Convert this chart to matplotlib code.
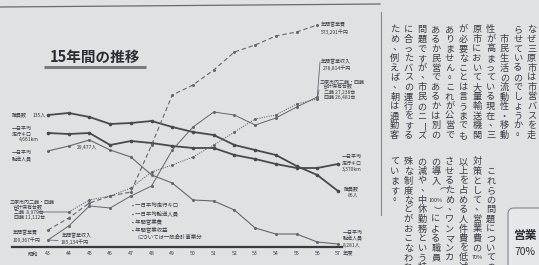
import matplotlib
matplotlib.use('Agg')
import matplotlib.pyplot as plt
from matplotlib.patches import FancyBboxPatch

plt.rcParams['font.family'] = ['Noto Sans CJK JP', 'DejaVu Sans']

# ---------------- data (heights above the baseline, chart has no printed scale) -------------
years = list(range(43, 58))
year_labels = [str(y) for y in years]
staff = [132, 134, 130, 123, 124, 126, 120, 115, 112, 102, 97, 92, 81, 72, 56]
bus_km = [114, 113, 114, 102, 106, 104, 101, 99, 99, 92, 88, 83, 79, 79, 83]
passengers = [96, 101, 107, 97, 90, 72, 64, 47, 46, 37, 19, 13, 13, 5, 3]
money_years = list(range(43, 57))
expenses = [17, 29, 44, 51, 55, 102, 152, 162, 177, 195, 202, 211, 215, 222]
revenue = [7, 21, 41, 39, 51, 61, 97, 120, 135, 132, 122, 129, 140, 150]
vehicle_years = list(range(44, 57))
vehicles = [35, 47, 51, 59, 75, 82, 90, 102, 115, 128, 132, 143, 148]

BG = '#dfe1e3'
INK = '#3a3a44'
LINE = '#48484f'
LIGHT = '#66666e'

W, H = 539, 265
fig = plt.figure(figsize=(W / 100, H / 100), dpi=100)
fig.patch.set_facecolor(BG)

# overlay in pixel coordinates for text / decorations
ov = fig.add_axes([0, 0, 1, 1])
ov.set_xlim(0, W)
ov.set_ylim(H, 0)
ov.axis('off')
ov.patch.set_alpha(0)

# chart axes: year 43 -> x=48px, step 20.714px ; baseline at y=247px
step = 20.714
x0 = 48 - 2 * step
x1 = 48 + 16 * step
ax = fig.add_axes([x0 / W, (H - 247) / H, (x1 - x0) / W, 240 / H])
ax.set_xlim(41, 59)
ax.set_ylim(0, 240)
ax.patch.set_alpha(0)
for s in ['top', 'right', 'left']:
    ax.spines[s].set_visible(False)
ax.spines['bottom'].set_bounds(41.26, 57.2)
ax.spines['bottom'].set_linewidth(1.6)
ax.spines['bottom'].set_color('#38383e')
ax.set_yticks([])
ax.set_xticks(years)
ax.set_xticklabels(year_labels, fontsize=3.8, color=INK)
ax.tick_params(axis='x', length=0, pad=3.2)

# lines
ax.plot(years, staff, color=LINE, lw=1.3, marker='o', ms=1.6, zorder=3)
ax.plot(years, bus_km, color=LINE, lw=1.3, marker='o', ms=1.6, zorder=3)
ax.plot(years, passengers, color=LIGHT, lw=0.8, marker='o', ms=1.2, zorder=3)
ax.plot(money_years, expenses, color=LIGHT, lw=0.8, ls=(0, (4, 2.5)), marker='o', ms=1.2, zorder=3)
ax.plot(money_years, revenue, color=LIGHT, lw=0.7, marker='o', ms=1.2, zorder=3)
ax.plot(vehicle_years, vehicles, color=LIGHT, lw=0.7, ls=(0, (1.2, 1.2)), marker='o', ms=1.2, zorder=3)

# leaders
lk = dict(arrowstyle='-', lw=0.6, color=LIGHT, shrinkA=0, shrinkB=0)
ax.annotate('', xy=(44, vehicles[0]), xytext=(38, 212), textcoords=ov.transData, arrowprops=lk)
ax.annotate('', xy=(43, revenue[0]), xytext=(58, 240.5), textcoords=ov.transData, arrowprops=lk)
ax.annotate('', xy=(56, revenue[-1]), xytext=(320, 62), textcoords=ov.transData, arrowprops=lk)
ax.annotate('', xy=(56, vehicles[-1]), xytext=(319, 90), textcoords=ov.transData, arrowprops=lk)

# axis end texts
ov.text(33, 254, '昭和', fontsize=3.8, color=INK, ha='center', va='center')
ov.text(348, 254, '年度', fontsize=3.8, color=INK, ha='center', va='center')

# title
ov.text(95, 57, '15年間の推移', fontsize=10.5, fontweight='bold', color='#2c2c34', ha='center', va='center')
ov.plot([44, 146], [67, 67], color='#7a7a80', lw=2.2, solid_capstyle='butt')

# labels
fs = 3.6
labels = [
    ('職員数', 12, 115), ('135人', 33, 115),
    ('一日平均', 12, 128), ('走行キロ', 12, 134), ('4,661km', 19, 140),
    ('29,477人', 77, 147),
    ('一日平均', 12, 153), ('輸送人員', 12, 160),
    ('三原市内二輪・四輪', 10, 203), ('合計保有台数', 13, 207.5), ('二輪  8,979台', 14, 212.5), ('四輪 11,112台', 14, 217),
    ('年間営業費', 13, 233), ('100,367千円', 13, 240),
    ('年間営業収入', 62, 236), ('185,134千円', 61, 242),
    ('年間営業費', 321, 25), ('573,291千円', 321, 32),
    ('年間営業収入', 321, 62), ('278,814千円', 323, 68),
    ('三原市内二輪・四輪', 320, 82), ('合計保有台数', 323, 87), ('二輪 27,238台', 324, 92), ('四輪 26,481台', 324, 97),
    ('一日平均', 342, 157), ('走行キロ', 342, 163), ('3,370km', 342, 169),
    ('職員数', 344, 189), ('86人', 348, 195),
    ('一日平均', 343, 233), ('輸送人員', 343, 239), ('8,281人', 343, 245),
]
for t, x, y in labels:
    ov.text(x, y, t, fontsize=fs, color=INK, ha='left', va='center')

# note
note = ['• 一日平均走行キロ', '• 一日平均輸送人員', '• 年間営業費', '• 年間営業収益']
for i, t in enumerate(note):
    ov.text(132, 205 + i * 8, t, fontsize=3.9, color=INK, ha='left', va='center')
ov.text(137, 237, 'については一般会計事業分', fontsize=3.9, color=INK, ha='left', va='center')

# decorations: page rules
ov.plot([0, 380], [7, 4], color='#6a6a70', lw=0.9)
ov.plot([381, 381], [12, 215], color='#8a8a90', lw=0.8)

# vertical text column
def tokens(s):
    out, buf = [], ''
    for ch in s:
        if ch.isascii() and ch != ' ':
            buf += ch
        else:
            if buf:
                out.append(buf)
                buf = ''
            out.append(ch)
    if buf:
        out.append(buf)
    return out

def vcol(x, y0, s, pitch=9.6, size=6.6):
    for i, tk in enumerate(tokens(s)):
        y = y0 + pitch * (i + 0.5)
        if tk in '、。':
            ov.text(x + 2.5, y - 2.5, tk, fontsize=size, color=INK, ha='center', va='center')
        elif tk in 'ー（）':
            ov.text(x, y, tk, fontsize=size, color=INK, ha='center', va='center', rotation=-90)
        elif tk.isascii():
            ov.text(x, y, tk, fontsize=size * 0.6, color=INK, ha='center', va='center')
        else:
            ov.text(x, y, tk, fontsize=size, color=INK, ha='center', va='center')

upper = [
    'なぜ三原市は市営バスを走',
    'らせているのでしょうか。',
    '　市民生活の流動性・移動',
    '性が高まっている現在、三',
    '原市において大量輸送機関',
    'が必要なことは言うまでも',
    'ありません。これが公営で',
    'あるか民営であるかは別の',
    '問題ですが、市民のニーズ',
    'に合ったバスの運行をする',
    'ため、例えば、朝は通勤客',
]
lower = [
    '　これらの問題についての',
    '対策として、営業費の70%',
    '以上を占める人件費を低減',
    'させるため、ワンマンカー',
    'の導入（100%）による職員',
    'の減や、中休勤務という特',
    '殊な制度などがおこなわれ',
    'ています。',
]
colx = [531.7 - 13.7 * i for i in range(11)]
for i, s in enumerate(upper):
    vcol(colx[i], 25, s)
for i, s in enumerate(lower):
    vcol(colx[i + 3], 157, s)

# box at lower right
box = FancyBboxPatch((508, 208), 40, 70, boxstyle='round,pad=0,rounding_size=6',
                     edgecolor='#85858c', facecolor='#e5e7ea', lw=0.8)
ov.add_patch(box)
ov.text(525, 235, '営業', fontsize=8.5, fontweight='bold', color='#2c2c34', ha='center', va='center')
ov.text(525, 252, '70%', fontsize=7.5, color='#2c2c34', ha='center', va='center')

fig.savefig('out.png', dpi=100, facecolor=BG)
